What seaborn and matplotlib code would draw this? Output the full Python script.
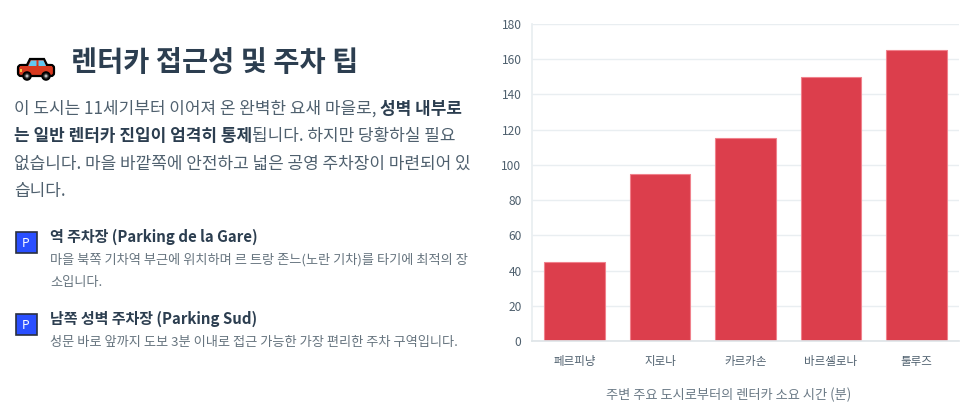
import matplotlib
matplotlib.use("Agg")
import matplotlib.pyplot as plt
import seaborn as sns
import pandas as pd
from matplotlib.patches import FancyBboxPatch, Rectangle, Circle, Polygon

cities = ["페르피냥", "지로나", "카르카손", "바르셀로나", "툴루즈"]
minutes = [45, 95, 115, 150, 165]
y_ticks = [0, 20, 40, 60, 80, 100, 120, 140, 160, 180]
x_title = "주변 주요 도시로부터의 렌터카 소요 시간 (분)"
title = "렌터카 접근성 및 주차 팁"
para = [
    [("이 도시는 11세기부터 이어져 온 완벽한 요새 마을로, ", False), ("성벽 내부로", True)],
    [("는 일반 렌터카 진입이 엄격히 통제", True), ("됩니다. 하지만 당황하실 필요", False)],
    [("없습니다. 마을 바깥쪽에 안전하고 넓은 공영 주차장이 마련되어 있", False)],
    [("습니다.", False)],
]
item_titles = ["역 주차장 (Parking de la Gare)", "남쪽 성벽 주차장 (Parking Sud)"]
item_lines = [
    ["마을 북쪽 기차역 부근에 위치하며 르 트랑 존느(노란 기차)를 타기에 최적의 장", "소입니다."],
    ["성문 바로 앞까지 도보 3분 이내로 접근 가능한 가장 편리한 주차 구역입니다."],
]

sns.set_theme(style="whitegrid")
plt.rcParams["font.family"] = ["Noto Sans CJK KR", "DejaVu Sans"]
W, H = 975, 415
fig = plt.figure(figsize=(W / 100, H / 100), dpi=100, facecolor="white")

# page-pixel layer for the text column
pg = fig.add_axes([0, 0, 1, 1])
pg.set_xlim(0, W); pg.set_ylim(H, 0); pg.axis("off")
px = 0.72
DARK = "#2c3e50"; MID = "#4f606e"; LIGHT = "#66747f"

def runs(x, y, parts, size, color_n, color_b):
    r = fig.canvas.get_renderer()
    for s, b in parts:
        t = pg.text(x, y, s, fontsize=size * px, va="center", ha="left",
                    color=color_b if b else color_n, fontweight="bold" if b else "normal")
        x += t.get_window_extent(r).width

pg.text(71, 63.5, title, fontsize=28.4 * px, fontweight="bold", color=DARK, va="center")
for i, line in enumerate(para):
    runs(14, 109 + i * 27.2, line, 16.97, MID, DARK)

ys = [236, 318]
subs = [[260, 282], [342]]
for yt, sy, head, lines in zip(ys, subs, item_titles, item_lines):
    pg.text(50, yt + 0.5, head, fontsize=15 * px, fontweight="bold", color=DARK, va="center")
    for y, s in zip(sy, lines):
        pg.text(50, y, s, fontsize=13.2 * px, color=LIGHT, va="center")
    # parking sign icon
    c = yt + 6.5
    pg.add_patch(Rectangle((15.5, c - 10.5), 21, 21, fc="#2a4fff", ec="#2a3040", lw=1.2))
    pg.text(26, c + 0.5, "P", color="white", fontsize=12 * px, ha="center", va="center")

# car icon
pg.add_patch(FancyBboxPatch((19, 66), 34, 9, boxstyle="round,pad=1,rounding_size=3",
                            fc="#d8391f", ec="black", lw=1.6))
pg.add_patch(Polygon([(26, 67), (30, 59), (44, 59), (48, 67)], closed=True,
                     fc="#d8391f", ec="black", lw=1.6))
pg.add_patch(Rectangle((20, 66), 32, 3, fc="#d8391f", ec="none"))
pg.add_patch(Polygon([(28.5, 66), (31, 60.5), (36.5, 60.5), (36.5, 66)], closed=True, fc="#62c9f2", ec="none"))
pg.add_patch(Polygon([(38.5, 66), (38.5, 60.5), (43.5, 60.5), (46, 66)], closed=True, fc="#62c9f2", ec="none"))
for cx in (27, 46):
    pg.add_patch(Circle((cx, 76), 3.8, fc="#333333", ec="black", lw=1.4))
    pg.add_patch(Circle((cx, 76), 1.5, fc="#bbbbbb", ec="none"))
pg.add_patch(Rectangle((19.5, 69), 2, 3, fc="#f6c445", ec="none"))

# chart
L, R, T, B = 532, 959, 24, 341
ax = fig.add_axes([L / W, 1 - B / H, (R - L) / W, (B - T) / H])
df = pd.DataFrame({"city": cities, "minutes": minutes})
sns.barplot(data=df, x="city", y="minutes", color="#dc3e4c", saturation=1, width=0.71,
            edgecolor="#f0818c", linewidth=0.8, ax=ax)
ax.set_ylim(0, 180)
ax.set_yticks(y_ticks)
ax.set_xlim(-0.5, 4.5)
ax.set_axisbelow(True)
ax.grid(axis="y", color="#e9eef1", lw=1)
ax.grid(axis="x", visible=False)
for s in ("top", "right"):
    ax.spines[s].set_visible(False)
ax.spines["left"].set_color("#e9eef1"); ax.spines["bottom"].set_color("#dfe5e8")
ax.tick_params(axis="y", length=0, labelsize=12 * px, labelcolor=MID, pad=7.5)
ax.tick_params(axis="x", length=0, labelsize=11.5 * px, labelcolor=MID, pad=10)
ax.set_ylabel("")
ax.set_xlabel(x_title, fontsize=13.25 * px, color="#6b7a86")
ax.xaxis.set_label_coords((729 - L) / (R - L), -(395 - B) / (B - T), transform=ax.transAxes)
ax.xaxis.label.set_va("center")
fig.savefig("out.png", dpi=100)
